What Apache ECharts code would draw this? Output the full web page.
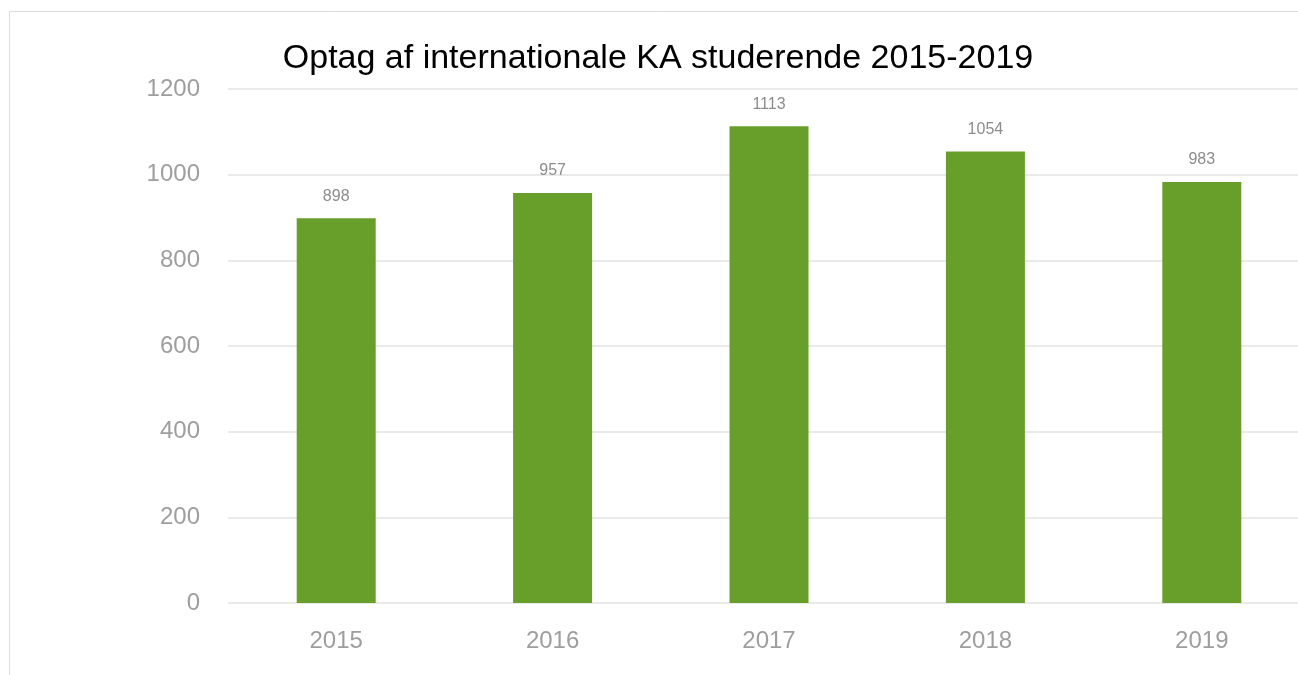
<!DOCTYPE html>
<html>
<head>
<meta charset="utf-8">
<script src="https://cdn.jsdelivr.net/npm/echarts@6/dist/echarts.min.js"></script>
<style>
  html, body { margin: 0; padding: 0; background: #fff; overflow: hidden; }
  #main { width: 1312px; height: 675px; }
</style>
</head>
<body>
<div id="main"></div>
<script>
const years = ['2015', '2016', '2017', '2018', '2019'];
const admitted = [898, 957, 1113, 1054, 983];
const titleText = 'Optag af internationale KA studerende 2015-2019';

const chart = echarts.init(document.getElementById('main'));
const font = 'Liberation Sans, Arial, sans-serif';

const option = {
  backgroundColor: '#fff',
  animation: false,
  title: {
    text: titleText,
    left: 653,
    textAlign: 'center',
    top: 37,
    textStyle: { fontFamily: font, fontSize: 34, fontWeight: 'normal', color: '#000' }
  },
  graphic: [{
    type: 'rect',
    shape: { x: 9.5, y: 11.5, width: 1400, height: 800 },
    style: { fill: 'none', stroke: '#dcdcdc', lineWidth: 1 },
    silent: true
  }],
  grid: { left: 228, top: 89, width: 1082, height: 514 },
  xAxis: {
    type: 'category',
    data: years,
    axisTick: { show: false },
    axisLine: { show: false },
    axisLabel: { color: '#9e9e9e', fontFamily: font, fontSize: 24, margin: 26 }
  },
  yAxis: {
    type: 'value',
    min: 0,
    max: 1200,
    interval: 200,
    axisLine: { show: false },
    axisTick: { show: false },
    splitLine: { lineStyle: { color: '#e3e3e3', width: 1.5 } },
    axisLabel: {
      color: '#9e9e9e', fontFamily: font, fontSize: 24, margin: 28,
      formatter: function (v) { return String(v); }
    }
  },
  series: [{
    type: 'bar',
    data: admitted,
    barWidth: 79,
    itemStyle: { color: '#689f2b' },
    label: {
      show: true,
      position: 'top',
      distance: 14,
      color: '#8c8c8c',
      fontFamily: font,
      fontSize: 16
    }
  }]
};

chart.setOption(option);
</script>
</body>
</html>
